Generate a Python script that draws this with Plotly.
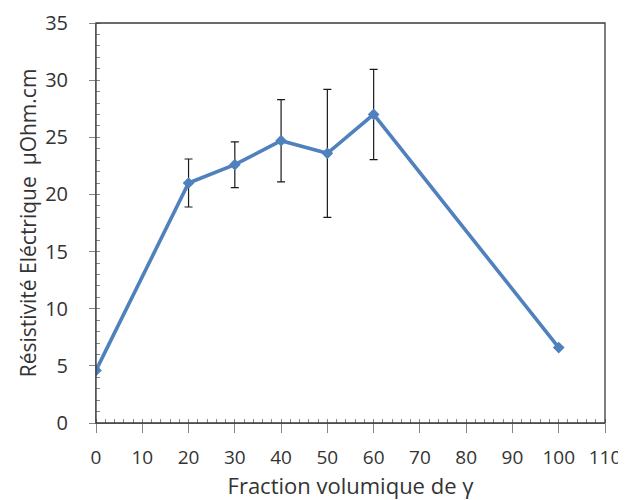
import plotly.graph_objects as go

fraction = [0, 20, 30, 40, 50, 60, 100]
resistivite = [4.6, 21.0, 22.6, 24.7, 23.6, 27.0, 6.6]
erreur = [0, 2.1, 2.0, 3.6, 5.6, 3.95, 0]

x_ticks = list(range(0, 111, 10))
y_ticks = list(range(0, 36, 5))

font_family = "'Open Sans', sans-serif"
txt = "#333333"

fig = go.Figure()
fig.add_trace(go.Scatter(
    x=fraction, y=resistivite,
    mode="lines+markers",
    line=dict(color="#4F81BD", width=3.6),
    marker=dict(symbol="diamond", size=9, color="#4F81BD"),
    error_y=dict(type="data", array=erreur, visible=True,
                 color="#1a1a1a", thickness=1.2, width=4),
    showlegend=False,
))

# page body has an 8px margin, so the figure is sized to fit the 626x500 window
fig.update_layout(
    width=618, height=492,
    margin=dict(l=88, r=21, t=15, b=77),
    paper_bgcolor="white", plot_bgcolor="white",
    font=dict(family=font_family, size=16, color=txt),
    shapes=[dict(type="rect", xref="paper", yref="paper", x0=0, y0=0, x1=1, y1=1,
                 line=dict(color="#3a3a3a", width=1.3), layer="above")],
)
fig.update_xaxes(
    range=[0, 110], tickvals=x_ticks, showgrid=False, zeroline=False,
    showline=True, linecolor="#868686", linewidth=1, automargin=False,
    ticks="outside", ticklen=9, tickcolor="#868686", tickwidth=1,
    ticklabelstandoff=8,
    minor=dict(dtick=2, ticks="inside", ticklen=4, tickcolor="#868686", tickwidth=1, showgrid=False),
    tickfont=dict(size=19, color=txt),
    title=dict(text="Fraction volumique de γ", font=dict(size=22, color=txt), standoff=18),
)
fig.update_yaxes(
    range=[0, 35], tickvals=y_ticks, showgrid=False, zeroline=False,
    showline=True, linecolor="#868686", linewidth=1, automargin=False,
    ticks="outside", ticklen=6, tickcolor="#868686", tickwidth=1,
    ticklabelstandoff=17,
    minor=dict(dtick=1, ticks="inside", ticklen=4, tickcolor="#868686", tickwidth=1, showgrid=False),
    tickfont=dict(size=20, color=txt),
    title=dict(text="Résistivité Eléctrique  µOhm.cm", font=dict(size=21, color=txt), standoff=2),
)

fig.write_html("out.html")
